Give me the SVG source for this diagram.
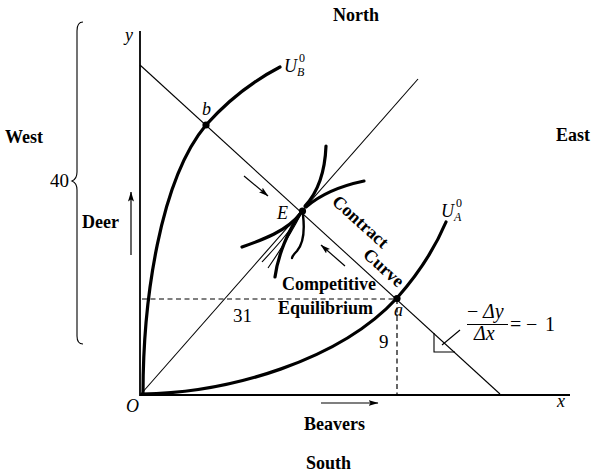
<svg xmlns="http://www.w3.org/2000/svg" width="593" height="474" viewBox="0 0 593 474">
<style>
.lbl{font-family:"Liberation Serif",serif;font-weight:bold;font-size:18px;fill:#000}
.num{font-family:"Liberation Serif",serif;font-size:19px;fill:#000}
.it{font-family:"Liberation Serif",serif;font-style:italic;font-size:18px;fill:#000}
.fm{font-family:"Liberation Serif",serif;font-style:italic;font-size:20px;fill:#000}
.fr{font-family:"Liberation Serif",serif;font-size:20px;fill:#000}
.sm{font-family:"Liberation Serif",serif;font-size:12px;fill:#000}
.smi{font-family:"Liberation Serif",serif;font-style:italic;font-size:12px;fill:#000}
.thin{fill:none;stroke:#000;stroke-width:1.1}
.axis{fill:none;stroke:#000;stroke-width:1.8}
.thick{fill:none;stroke:#000;stroke-width:3.2;stroke-linecap:round}
.mid{fill:none;stroke:#000;stroke-width:2.4;stroke-linecap:round}
.dash{fill:none;stroke:#000;stroke-width:1.2;stroke-dasharray:5 3.5}
.arr{fill:none;stroke:#000;stroke-width:1.2;marker-end:url(#ah)}
</style>
<defs>
<marker id="ah" viewBox="0 0 10 6" refX="9.5" refY="3" markerWidth="10" markerHeight="6" markerUnits="userSpaceOnUse" orient="auto">
<path d="M0,0 L10,3 L0,6 L2,3 Z" fill="#000"/>
</marker>
</defs>
<rect width="593" height="474" fill="#fff"/>

<g id="compass">
<text class="lbl" x="333" y="21">North</text>
<text class="lbl" x="5" y="143">West</text>
<text class="lbl" x="556" y="141">East</text>
<text class="lbl" x="306" y="469">South</text>
</g>

<g id="brace">
<path class="thin" d="M83,22 Q77,22 77,31 L77,172 Q77,179 72,181 Q77,183 77,190 L77,336 Q77,344 83,344"/>
<text class="num" x="50" y="187">40</text>
</g>

<g id="axes">
<path class="axis" d="M140,31 L140,395 L570,395"/>
<text class="it" x="125" y="41">y</text>
<text class="it" x="126" y="412">O</text>
<text class="it" x="557" y="407">x</text>
</g>

<g id="connectors">
<path class="thin" d="M140,65 L500,394"/>
<path class="thin" d="M141,394 L418,79"/>
<path class="dash" d="M142,299 L397,299 L397,394"/>
<path class="arr" d="M244,176 L268,196"/>
<path class="arr" d="M345,266 L321,245"/>
<path class="arr" d="M131,255 L131,192"/>
<path class="arr" d="M321,403 L378,403"/>
<path class="thin" d="M434,333 L434,352 L455,352"/>
<path class="thin" d="M442,345 L460,330"/>
</g>

<g id="curve-UB">
<path class="thick" d="M143,394 C143,300 160,180 206,125 C230,98 255,80 280,67"/>
<text class="it" x="284" y="72">U</text>
<text class="sm" x="299" y="62">0</text>
<text class="smi" x="297" y="76">B</text>
</g>

<g id="curve-UA">
<path class="thick" d="M142,394 C230,393 340,360 397,298 C420,272 435,248 446,222"/>
<text class="it" x="441" y="217">U</text>
<text class="sm" x="456" y="207">0</text>
<text class="smi" x="454" y="221">A</text>
</g>

<g id="point-b">
<circle cx="206" cy="125" r="3.6" fill="#000"/>
<text class="it" x="202" y="115">b</text>
</g>

<g id="point-E">
<path class="thick" d="M326,146 C325,172 318,192 305,206"/>
<path class="thick" d="M364,181 C340,186 320,195 306,207"/>
<path class="thick" d="M242,247 C262,240 287,231 300,214"/>
<path class="thick" d="M275,277 C278,255 288,231 300,214"/>
<path class="thin" d="M262,262 C275,248 290,232 300,214"/>
<path class="thin" d="M268,268 C279,252 292,232 301,214"/>
<path class="mid" d="M303,215 C305,232 303,244 297,251 C293,255 292,256 292,258"/>
<circle cx="302.5" cy="211" r="3.6" fill="#000"/>
<text class="it" x="277" y="219">E</text>
</g>

<g id="point-a">
<circle cx="397" cy="298.5" r="3.6" fill="#000"/>
<text class="it" x="394" y="316">a</text>
</g>

<g id="labels">
<text class="lbl" x="82" y="228">Deer</text>
<text class="lbl" x="304" y="430">Beavers</text>
<text class="lbl" x="282" y="290">Competitive</text>
<text class="lbl" x="278" y="314">Equilibrium</text>
<text class="lbl" transform="translate(331,203) rotate(42)">Contract</text>
<text class="lbl" transform="translate(362,256) rotate(42)">Curve</text>
<text class="num" x="233" y="322">31</text>
<text class="num" x="379" y="348">9</text>
</g>

<g id="formula">
<text class="fr" x="467" y="318">−</text>
<text class="fm" x="483" y="318">Δy</text>
<path class="thin" d="M467,324.5 L508,324.5"/>
<text class="fm" x="474" y="340">Δx</text>
<text class="fr" x="510" y="331">=</text>
<text class="fr" x="526" y="331">−</text>
<text class="fr" x="545" y="331">1</text>
</g>
</svg>
